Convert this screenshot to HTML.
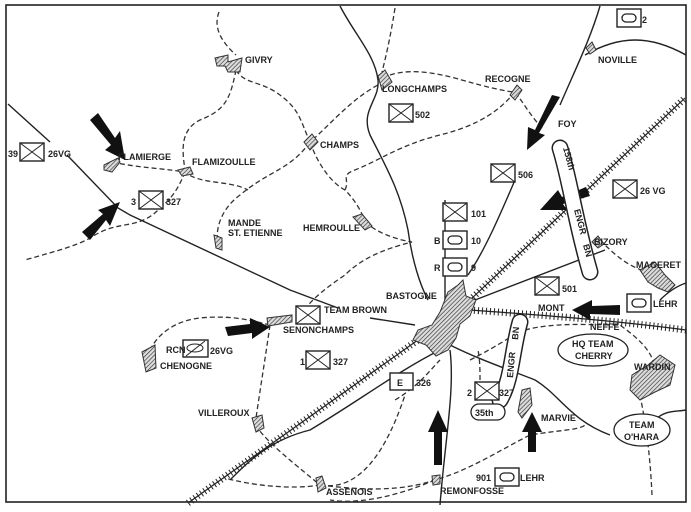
<!DOCTYPE html>
<html><head><meta charset="utf-8"><style>
html,body{margin:0;padding:0;background:#fff;}
svg{display:block}
text{font-family:"Liberation Sans",sans-serif;font-weight:bold;fill:#222;font-size:9px}
</style></head><body>
<svg width="691" height="512" viewBox="0 0 691 512" xmlns="http://www.w3.org/2000/svg">
<defs>
<pattern id="h" width="3" height="3" patternUnits="userSpaceOnUse" patternTransform="rotate(45)">
<rect width="3" height="3" fill="#ddd"/><line x1="0" y1="0" x2="0" y2="3" stroke="#333" stroke-width="1.3"/></pattern>
<g id="ux"><rect x="0" y="0" width="24" height="18" fill="#fff" stroke="#222" stroke-width="1.4"/><path d="M0 0L24 18M24 0L0 18" stroke="#222" stroke-width="1"/></g>
<g id="ua"><rect x="0" y="0" width="24" height="18" fill="#fff" stroke="#222" stroke-width="1.4"/><rect x="5" y="5" width="14" height="8" rx="4" fill="none" stroke="#222" stroke-width="1.3"/></g>
</defs>
<rect x="6" y="5" width="680" height="497" fill="none" stroke="#222" stroke-width="1.6"/>

<g fill="none" stroke="#333" stroke-width="1.3" stroke-dasharray="5,3">
<path d="M219 12 C212 30,225 45,236 55"/>
<path d="M236 70 C230 100,225 110,200 120 C180 130,182 150,185 170"/>
<path d="M236 70 C245 85,260 80,280 95 C300 110,300 120,310 142 C330 125,350 100,378 85"/>
<path d="M112 162 C140 168,160 168,185 172 C200 185,230 180,248 190"/>
<path d="M185 172 C178 190,170 200,160 208 C140 230,120 220,95 235 C80 245,60 250,25 260"/>
<path d="M310 142 C290 170,270 170,240 195 C220 210,215 230,218 245"/>
<path d="M310 142 C320 170,335 185,345 190 C355 200,362 212,365 222"/>
<path d="M345 190 C350 180,340 175,355 170 C380 160,400 145,440 135 C480 125,500 110,515 92"/>
<path d="M390 75 C420 65,460 80,480 85 C500 90,510 92,515 92 C525 105,530 115,542 128"/>
<path d="M395 8 C390 40,385 60,382 72"/>
<path d="M365 222 C380 235,400 240,412 242 C380 250,360 260,345 275 C330 285,310 300,305 310"/>
<path d="M270 325 C265 360,260 390,255 425"/>
<path d="M270 325 C250 320,230 315,200 318 C180 320,160 330,150 350"/>
<path d="M255 425 C270 445,290 460,320 485 C290 490,250 485,225 478"/>
<path d="M320 485 C350 490,380 470,405 395"/>
<path d="M320 485 C360 490,400 492,435 480 C470 470,500 450,530 435 C560 430,580 430,585 425"/>
<path d="M435 480 C400 495,360 505,330 500"/>
<path d="M395 400 C420 385,430 370,440 360"/>
<path d="M480 380 C480 370,480 360,478 350"/>
<path d="M600 240 C615 255,630 270,660 275"/>
<path d="M525 330 C555 322,590 325,620 325 C640 340,660 355,655 385"/>
<path d="M470 360 C500 345,520 330,525 330"/>
<path d="M640 395 C645 420,650 450,652 495"/>
</g>

<g fill="none" stroke="#222" stroke-width="1.4">
<path d="M8 104 L50 142 M67 155 L118 208 L130 215 L290 290 L338 308 M370 318 L415 325"/>
<path d="M340 6 C355 35,375 55,378 80 C380 100,360 110,370 135 C385 165,400 190,408 230 C412 260,420 285,428 300"/>
<path d="M445 200 L445 330"/>
<path d="M600 6 C590 40,575 70,560 105 M515 180 C500 215,485 250,468 275"/>
<path d="M585 55 C620 35,650 35,686 55"/>
<path d="M475 300 L605 250"/>
<path d="M450 350 C455 390,445 440,440 505"/>
<path d="M450 345 C480 360,510 370,535 380 C560 395,570 420,610 435 M655 420 C665 410,675 412,686 410"/>
<path d="M660 300 C670 290,680 285,686 283"/>
<path d="M440 350 C400 370,360 400,310 430 C270 440,250 460,230 480"/>
</g>

<g stroke="#222" stroke-width="1.2" fill="none">
<path d="M188 503 L425 335" stroke-dasharray="1,3" stroke-width="7"/>
<path d="M188 503 L425 335"/>
<path d="M470 300 L685 98" stroke-dasharray="1,3" stroke-width="7"/>
<path d="M470 300 L685 98"/>
<path d="M470 310 C540 315,610 320,686 330" stroke-dasharray="1,3" stroke-width="7"/>
<path d="M470 310 C540 315,610 320,686 330"/>
</g>

<g fill="url(#h)" stroke="#333" stroke-width="1">
<path d="M448 292 L458 285 L463 280 L466 296 L476 300 L470 316 L460 324 L456 338 L448 350 L436 356 L426 345 L413 340 L418 330 L432 325 L440 312 Z"/>
<path d="M215 58 L228 55 L228 62 L242 58 L240 72 L228 72 L225 66 L217 66 Z"/>
<path d="M378 76 L385 70 L392 82 L382 90 Z"/>
<path d="M510 95 L517 85 L522 90 L515 100 Z"/>
<path d="M586 48 L592 42 L596 50 L590 54 Z"/>
<path d="M104 165 L118 158 L120 162 L112 172 L104 170 Z"/>
<path d="M178 170 L190 167 L193 174 L182 176 Z"/>
<path d="M304 142 L312 134 L318 142 L310 150 Z"/>
<path d="M214 235 L222 238 L222 250 L216 248 Z"/>
<path d="M353 217 L362 214 L372 226 L365 230 Z"/>
<path d="M267 318 L292 315 L292 322 L268 326 Z"/>
<path d="M142 352 L155 345 L156 368 L146 372 Z"/>
<path d="M252 418 L262 415 L264 428 L256 432 Z"/>
<path d="M316 478 L322 476 L326 488 L318 492 Z"/>
<path d="M432 476 L440 475 L440 484 L433 485 Z"/>
<path d="M522 390 L530 388 L532 405 L522 418 L518 412 Z"/>
<path d="M632 375 L648 365 L660 355 L675 365 L670 385 L655 392 L640 400 L630 390 Z"/>
<path d="M640 270 L655 262 L665 275 L675 285 L668 292 L658 288 L648 282 Z"/>
<path d="M592 242 L598 236 L604 244 L598 248 Z"/>
</g>

<g fill="#111">
<path d="M90 120 L98 113 L115 138 L120 131 L125 160 L105 150 L111 145 Z"/>
<path d="M82 232 L90 240 L106 220 L110 226 L120 202 L98 210 L103 214 Z"/>
<path d="M225 327 L228 336 L252 333 L252 339 L270 327 L250 318 L250 324 Z"/>
<path d="M560 97 L552 95 L535 130 L528 127 L527 150 L545 135 L539 133 Z"/>
<path d="M590 196 L586 187 L562 197 L558 190 L540 210 L567 210 L563 204 Z"/>
<path d="M620 305 L620 315 L590 314 L590 320 L572 310 L592 300 L592 306 Z"/>
<path d="M434 465 L442 465 L442 432 L448 432 L438 410 L428 432 L434 432 Z"/>
<path d="M528 452 L536 452 L536 432 L542 432 L532 412 L522 432 L528 432 Z"/>
</g>

<g fill="#fff" stroke="#222" stroke-width="1.3">
<path d="M560 148 C570 180,575 220,590 272" stroke-width="17" stroke-linecap="round"/>
<path d="M560 148 C570 180,575 220,590 272" stroke="#fff" stroke-width="14" stroke-linecap="round"/>
<path d="M520 322 C512 350,512 380,500 400" stroke-width="17" stroke-linecap="round" fill="none"/>
<path d="M520 322 C512 350,512 380,500 400" stroke="#fff" stroke-width="14" stroke-linecap="round" fill="none"/>
<rect x="471" y="404" width="34" height="16" rx="8"/>
<ellipse cx="593" cy="350" rx="35" ry="16"/>
<ellipse cx="642" cy="430" rx="28" ry="16"/>
</g>

<use href="#ux" x="20" y="143"/><use href="#ux" x="139" y="191"/><use href="#ux" x="389" y="104"/>
<use href="#ux" x="491" y="164"/><use href="#ux" x="443" y="203"/><use href="#ua" x="443" y="231"/>
<use href="#ua" x="443" y="258"/><use href="#ux" x="535" y="277"/><use href="#ux" x="613" y="180"/>
<use href="#ua" x="617" y="9"/><use href="#ua" x="627" y="294"/><use href="#ux" x="296" y="306"/>
<use href="#ux" x="306" y="351"/><use href="#ux" x="475" y="382"/><use href="#ua" x="495" y="468"/>
<rect x="183" y="340" width="25" height="17" fill="#fff" stroke="#222" stroke-width="1.4"/>
<ellipse cx="195" cy="348" rx="8" ry="4" fill="none" stroke="#222"/><path d="M186 356 L205 341" stroke="#222"/>
<rect x="390" y="373" width="23" height="17" fill="#fff" stroke="#222" stroke-width="1.4"/>
<text x="397" y="386" font-size="10">E</text>

<text x="245" y="63">GIVRY</text>
<text x="382" y="92">LONGCHAMPS</text>
<text x="485" y="82">RECOGNE</text>
<text x="598" y="63">NOVILLE</text>
<text x="558" y="127">FOY</text>
<text x="118" y="160">FLAMIERGE</text>
<text x="192" y="165">FLAMIZOULLE</text>
<text x="320" y="148">CHAMPS</text>
<text x="228" y="226">MANDE</text><text x="228" y="236">ST. ETIENNE</text>
<text x="303" y="231">HEMROULLE</text>
<text x="386" y="299" font-size="10" font-weight="normal">BASTOGNE</text>
<text x="324" y="313">TEAM BROWN</text>
<text x="283" y="333">SENONCHAMPS</text>
<text x="160" y="369">CHENOGNE</text>
<text x="198" y="416">VILLEROUX</text>
<text x="326" y="495">ASSENOIS</text>
<text x="440" y="494">REMONFOSSE</text>
<text x="541" y="421">MARVIE</text>
<text x="634" y="370">WARDIN</text>
<text x="636" y="268">MAGERET</text>
<text x="594" y="245">BIZORY</text>
<text x="538" y="311">MONT</text>
<text x="590" y="330">NEFFE</text>
<text x="572" y="347">HQ TEAM</text><text x="575" y="359">CHERRY</text>
<text x="629" y="428">TEAM</text><text x="624" y="440">O'HARA</text>
<text x="8" y="157">39</text><text x="48" y="157" font-weight="normal" font-size="10">26VG</text>
<text x="131" y="205">3</text><text x="166" y="205" font-weight="normal" font-size="10">327</text>
<text x="415" y="118" font-weight="normal" font-size="10">502</text>
<text x="518" y="178" font-weight="normal" font-size="10">506</text>
<text x="471" y="217" font-weight="normal" font-size="10">101</text>
<text x="434" y="244" font-weight="normal" font-size="10">B</text><text x="471" y="244" font-weight="normal" font-size="10">10</text>
<text x="434" y="271" font-weight="normal" font-size="10">R</text><text x="471" y="271" font-weight="normal" font-size="10">9</text>
<text x="562" y="292" font-weight="normal" font-size="10">501</text>
<text x="640" y="194" font-weight="normal" font-size="10">26 VG</text>
<text x="642" y="23" font-weight="normal" font-size="10">2</text>
<text x="653" y="307">LEHR</text>
<text x="166" y="353">RCN</text><text x="210" y="354" font-weight="normal" font-size="10">26VG</text>
<text x="300" y="365">1</text><text x="333" y="365" font-weight="normal" font-size="10">327</text>
<text x="416" y="386" font-weight="normal" font-size="10">326</text>
<text x="467" y="396">2</text><text x="499" y="396" font-weight="normal" font-size="10">327</text>
<text x="475" y="416" font-weight="normal" font-size="9">35th</text>
<text x="476" y="481">901</text><text x="520" y="481">LEHR</text>
<text transform="translate(563,148) rotate(75)" font-weight="normal">158th</text>
<text transform="translate(574,210) rotate(75)">ENGR</text>
<text transform="translate(583,245) rotate(75)">BN</text>
<text transform="translate(513,378) rotate(-85)">ENGR</text>
<text transform="translate(518,340) rotate(-85)">BN</text>
</svg>
</body></html>
